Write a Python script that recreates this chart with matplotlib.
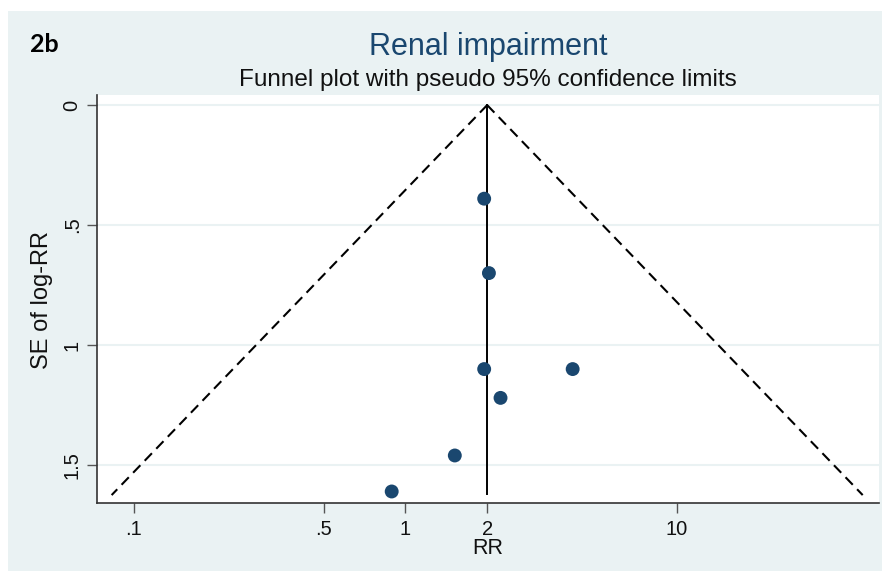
import numpy as np
import matplotlib
matplotlib.use("Agg")
import matplotlib.pyplot as plt
from matplotlib.patches import Rectangle
from matplotlib.ticker import FixedLocator, FixedFormatter, NullLocator

# study estimates: relative risk and standard error of log-RR
rr = [1.95, 2.03, 1.95, 4.13, 2.24, 1.52, 0.89]
se = [0.39, 0.70, 1.10, 1.10, 1.22, 1.46, 1.61]
pooled_rr = 2.0
se_max = 1.625

x_ticks = [0.1, 0.5, 1, 2, 10]
x_labels = [".1", ".5", "1", "2", "10"]
y_ticks = [0, 0.5, 1, 1.5]
y_labels = ["0", ".5", "1", "1.5"]

navy = "#1a476f"
bg = "#eaf2f3"

plt.rcParams['font.family'] = ['Liberation Sans', 'DejaVu Sans']

fig = plt.figure(figsize=(8.87, 5.73), dpi=100)
fig.patch.set_facecolor("white")
fig.patches.append(Rectangle((8 / 887, 1 - 571 / 573), 874 / 887, 560 / 573,
                             transform=fig.transFigure, facecolor=bg,
                             edgecolor="none", zorder=-5))

ax = fig.add_axes([97 / 887, 1 - 503 / 573, 782 / 887, 408 / 573])
ax.set_facecolor("white")

# pseudo 95% confidence limits around the pooled estimate
s = np.array([0, se_max])
lo = np.exp(np.log(pooled_rr) - 1.96 * s)
hi = np.exp(np.log(pooled_rr) + 1.96 * s)
ax.plot(lo, s, color="black", lw=1.5, ls=(0, (5, 3)), zorder=2)
ax.plot(hi, s, color="black", lw=1.5, ls=(0, (5, 3)), zorder=2)
ax.plot([pooled_rr, pooled_rr], [0, 1.62], color="black", lw=1.4, zorder=2)

ax.scatter(rr, se, s=100, color=navy, edgecolor="none", zorder=3)

ax.set_xscale("log")
ax.set_xlim(0.0731, 55.5)
ax.set_ylim(1.658, -0.042)

ax.xaxis.set_major_locator(FixedLocator(x_ticks))
ax.xaxis.set_major_formatter(FixedFormatter(x_labels))
ax.xaxis.set_minor_locator(NullLocator())
ax.set_yticks(y_ticks)
ax.set_yticklabels(y_labels, rotation=90, va="center")

ax.grid(axis="y", color=bg, lw=1.5, zorder=0)
ax.set_axisbelow(True)

for side in ["top", "right"]:
    ax.spines[side].set_visible(False)
for side in ["left", "bottom"]:
    ax.spines[side].set_color("#333333")
    ax.spines[side].set_linewidth(1.2)
ax.tick_params(axis="both", length=7, width=1, color="#555555",
               labelsize=14.5, labelcolor="#111111")
ax.tick_params(axis="x", pad=5)
ax.tick_params(axis="y", pad=4)

fig.text(30 / 887, 1 - 45 / 573, "2b", fontsize=18, fontweight="bold",
         family=["Lato", "DejaVu Sans"], va="center", ha="left")
fig.text(488 / 887, 1 - 47 / 573, "Renal impairment", fontsize=22,
         color=navy, ha="center", va="center")
fig.text(488 / 887, 1 - 80 / 573, "Funnel plot with pseudo 95% confidence limits",
         fontsize=17.5, color="#111111", ha="center", va="center")
fig.text(42 / 887, 1 - 300 / 573, "SE of log-RR", fontsize=17, rotation=90,
         color="#111111", ha="center", va="center")
fig.text(488 / 887, 1 - 548 / 573, "RR", fontsize=15.5, color="#111111",
         ha="center", va="center")

fig.savefig("out.png", dpi=100, facecolor=fig.get_facecolor())
